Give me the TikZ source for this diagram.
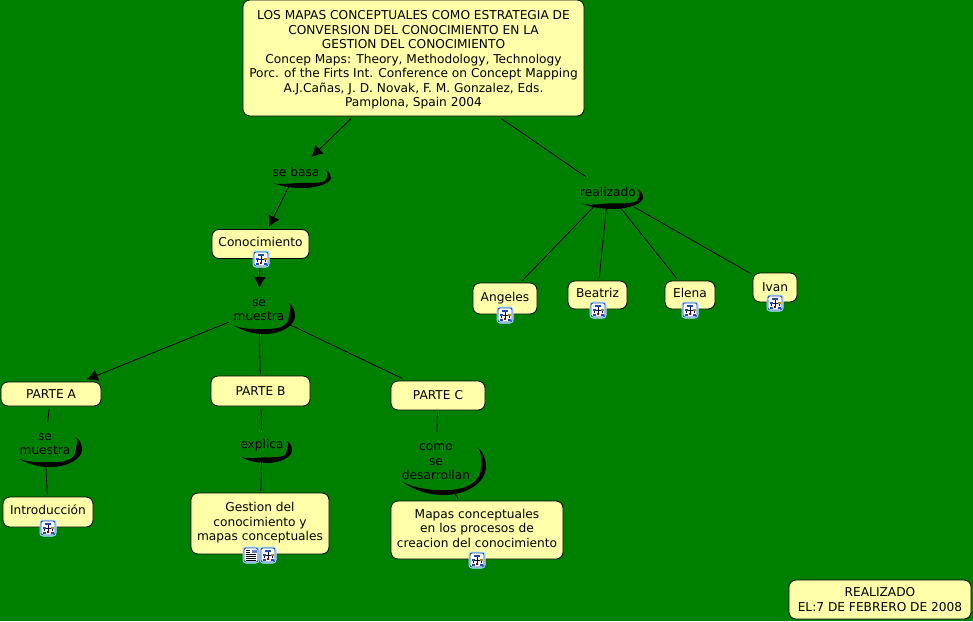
\documentclass[tikz,border=0pt]{standalone}
\usepackage{fontspec}
\setmainfont{DejaVu Sans}
\usetikzlibrary{arrows.meta}
\definecolor{mapgreen}{HTML}{008000}
\definecolor{conceptfill}{HTML}{FFFFAA}
\definecolor{iconblue}{HTML}{1F4AA8}
\newcommand{\iconroom}{\rule[-4pt]{0pt}{4pt}}
\newcommand{\toproom}{\rule{0pt}{13pt}}
\tikzset{
	conceptbox/.style={draw=black, fill=conceptfill, rounded corners=7pt, line width=0.8pt, align=center, inner sep=0pt, outer sep=2.5pt, font=\fontsize{12.2}{14.5}\selectfont},
	linkbox/.style={align=center, inner sep=0pt, outer sep=0pt, minimum width=30pt, minimum height=30pt, font=\fontsize{12.2}{14.5}\selectfont},
	link/.style={draw=black, line width=0.8pt},
	linkarrow/.style={link, -{Latex[length=11pt,width=12pt]}},
	pics/crescent/.style args={#1/#2}{code={
		\fill[black] (0,0.72) .. controls (0.14,0.9) and (0.3,1) .. (0.5,1)
			.. controls (0.78,1) and (1,0.72) .. (1,0.42)
			.. controls (1,0.26) and (0.97,0.1) .. (0.9,0)
			.. controls (0.96,0.14) and ({1-#1},0.28) .. ({1-#1},0.42)
			.. controls ({1-#1},0.72) and (0.78,{1-#2}) .. (0.5,{1-#2})
			.. controls (0.3,{1-#2}) and (0.14,0.85) .. (0,0.72) -- cycle;
	}},
	iconframe/.pic={
		\draw[blue!30!cyan!40, fill=white, rounded corners=3pt, line width=1pt] (-8,-8) rectangle (8,8);
		\draw[iconblue, rounded corners=2pt, line width=0.8pt] (-7,-7) rectangle (7,7);
	},
	mapicon/.pic={
		\pic {iconframe};
		\draw[black!70!blue, line width=0.7pt] (0,-3) -- (0,0) (-4,3) -- (-4,0) -- (4,0) -- (4,3) (0,0) -- (0,4);
		\fill[iconblue] (-3,-5.5) rectangle (3,-3);
		\fill[iconblue] (-5.5,-1.5) rectangle (-2.5,1);
		\fill[olive!70!orange] (2.5,-1.5) rectangle (5.5,1);
		\fill[iconblue] (-5.5,3.5) rectangle (-2.5,5.5);
		\fill[iconblue] (2.5,3.5) rectangle (5.5,5.5);
		\fill[red!60!black] (-1.2,2.5) rectangle (1.2,4.5);
	},
	docicon/.pic={
		\pic {iconframe};
		\draw[black, line width=0.7pt] (-5,-5) -- (-1,-5) (-5,-3) -- (-1,-3) (-5,-1) -- (5,-1) (-5,1) -- (5,1) (-5,3) -- (5,3) (-5,5) -- (5,5);
		\fill[iconblue!70] (0.5,-5.5) rectangle (5.5,-2);
	}
}
\begin{document}
\begin{tikzpicture}[x=1pt,y=-1pt]
	\useasboundingbox (0,0) rectangle (973,621);
	\fill[mapgreen] (0,0) rectangle (973,621);

	% concepts
	\node[conceptbox, minimum width=341pt, minimum height=116pt] (title) at (413.5,58) {\toproom LOS MAPAS CONCEPTUALES COMO ESTRATEGIA DE\\CONVERSION DEL CONOCIMIENTO EN LA\\GESTION DEL CONOCIMIENTO\\Concep Maps: Theory, Methodology, Technology\\Porc. of the Firts Int. Conference on Concept Mapping\\A.J.Cañas, J. D. Novak, F. M. Gonzalez, Eds.\\Pamplona, Spain 2004};
	\node[conceptbox, minimum width=97pt, minimum height=29pt] (conocimiento) at (260.5,244) {Conocimiento\iconroom};
	\node[conceptbox, minimum width=100pt, minimum height=24pt] (parteA) at (51,394) {PARTE A};
	\node[conceptbox, minimum width=99pt, minimum height=30pt] (parteB) at (260.5,391) {PARTE B};
	\node[conceptbox, minimum width=94pt, minimum height=29pt] (parteC) at (438,395.5) {PARTE C};
	\node[conceptbox, minimum width=90pt, minimum height=30pt] (introduccion) at (48,512) {Introducción\iconroom};
	\node[conceptbox, minimum width=138pt, minimum height=61pt] (gestion) at (260,523.5) {Gestion del\\conocimiento y\\mapas conceptuales\iconroom};
	\node[conceptbox, minimum width=172pt, minimum height=58pt] (mapas) at (477,530) {Mapas conceptuales\\en los procesos de\\creacion del conocimiento\iconroom};
	\node[conceptbox, minimum width=64pt, minimum height=31pt] (angeles) at (505,298.5) {Angeles\iconroom};
	\node[conceptbox, minimum width=59pt, minimum height=28pt] (beatriz) at (597.5,295) {Beatriz\iconroom};
	\node[conceptbox, minimum width=50pt, minimum height=28pt] (elena) at (690,295) {Elena\iconroom};
	\node[conceptbox, minimum width=44pt, minimum height=29pt] (ivan) at (775,287.5) {Ivan};
	\node[conceptbox, minimum width=182pt, minimum height=39pt] (fecha) at (880,599.5) {REALIZADO\\EL:7 DE FEBRERO DE 2008};

	% linking phrases
	\pic[xscale=58,yscale=18] at (273,170) {crescent=0.07/0.28};
	\pic[xscale=61,yscale=20] at (582,189) {crescent=0.07/0.28};
	\pic[xscale=61,yscale=31] at (234,303) {crescent=0.1/0.16};
	\pic[xscale=63,yscale=30] at (19,437) {crescent=0.1/0.16};
	\pic[xscale=51,yscale=22] at (241,441) {crescent=0.1/0.26};
	\pic[xscale=84,yscale=48] at (402,447) {crescent=0.06/0.1};

	\node[linkbox] (sebasa) at (296,172) {se basa};
	\node[linkbox] (realizado) at (608,192) {realizado};
	\node[linkbox, minimum width=60pt, minimum height=44pt] (semuestra) at (259,310) {se\\muestra};
	\node[linkbox, minimum height=44pt] (semuestraA) at (45,444) {se\\muestra};
	\node[linkbox] (explica) at (262,445) {explica};
	\node[linkbox, minimum height=60pt] (desarrollan) at (436,462) {como\\se\\desarrollan};

	% connectors
	\draw[linkarrow] (title) -- (sebasa);
	\draw[linkarrow] (sebasa) -- (conocimiento);
	\draw[link] (title) -- (realizado);
	\draw[link] (realizado) -- (angeles);
	\draw[link] (realizado) -- (beatriz);
	\draw[link] (realizado) -- (elena);
	\draw[link] (realizado) -- (ivan);
	\draw[linkarrow] (conocimiento) -- (semuestra);
	\draw[linkarrow] (semuestra) -- (parteA);
	\draw[link] (semuestra) -- (parteB);
	\draw[link] (semuestra) -- (parteC);
	\draw[link] (parteA) -- (semuestraA);
	\draw[link] (semuestraA) -- (introduccion);
	\draw[link] (parteB) -- (explica);
	\draw[link] (explica) -- (gestion);
	\draw[link] (parteC) -- (desarrollan);
	\draw[link] (desarrollan) -- (mapas);

	% icons
	\pic at (261,259) {mapicon};
	\pic at (48,528) {mapicon};
	\pic at (251,555) {docicon};
	\pic at (268,555) {mapicon};
	\pic at (477,560) {mapicon};
	\pic at (505,315) {mapicon};
	\pic at (598,310) {mapicon};
	\pic at (690,310) {mapicon};
	\pic at (775,303) {mapicon};
\end{tikzpicture}
\end{document}
